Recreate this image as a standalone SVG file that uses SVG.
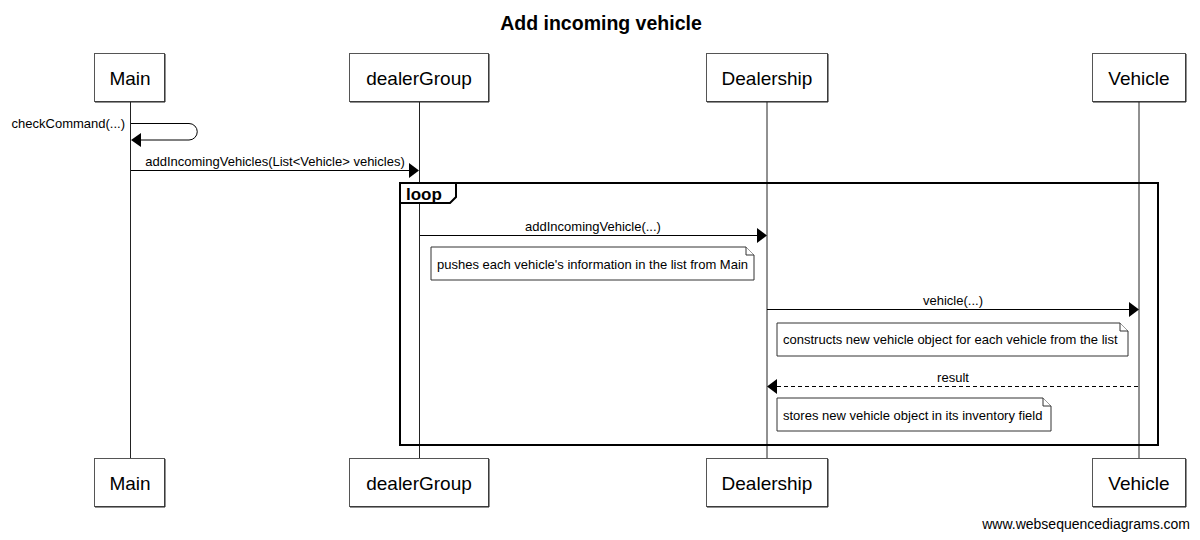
<svg xmlns="http://www.w3.org/2000/svg" width="1200" height="540" viewBox="0 0 1200 540">
<style>
text{font-family:"Liberation Sans",Arial,sans-serif;fill:#000}
.title{font-size:19.5px;font-weight:bold;text-anchor:middle}
.pbox{fill:#fff;stroke:#555;stroke-width:1}
.pshadow{fill:none;stroke:#222;stroke-width:1}
.pname{font-size:19px;text-anchor:middle}
.life{stroke:#222;stroke-width:1}
.msg{stroke:#000;stroke-width:1;fill:none}
.dash{stroke-dasharray:4,3}
.lbl{font-size:13px;text-anchor:middle}
.note{fill:#fff;stroke:#333;stroke-width:1}
.ntext{font-size:13px}
.frame{fill:none;stroke:#000;stroke-width:2}
.tab{fill:#fff;stroke:#000;stroke-width:2}
.head{fill:#000}
</style>
<text class="title" x="601" y="30">Add incoming vehicle</text>

<g id="lifelines">
<line class="life" x1="130.5" y1="102" x2="130.5" y2="458"/>
<line class="life" x1="419.5" y1="102" x2="419.5" y2="458"/>
<line class="life" x1="767" y1="102" x2="767" y2="458"/>
<line class="life" x1="1139" y1="102" x2="1139" y2="458"/>
</g>

<g id="Main">
<rect class="pbox" x="94.5" y="53.5" width="70" height="48"/>
<path class="pshadow" d="M165,54 V102 H95"/>
<text class="pname" x="130" y="85">Main</text>
</g>
<g id="dealerGroup">
<rect class="pbox" x="349.5" y="53.5" width="139" height="48"/>
<path class="pshadow" d="M489,54 V102 H350"/>
<text class="pname" x="419" y="85">dealerGroup</text>
</g>
<g id="Dealership">
<rect class="pbox" x="706.5" y="53.5" width="121" height="48"/>
<path class="pshadow" d="M828,54 V102 H707"/>
<text class="pname" x="767" y="85">Dealership</text>
</g>
<g id="Vehicle">
<rect class="pbox" x="1092.5" y="53.5" width="93" height="48"/>
<path class="pshadow" d="M1186,54 V102 H1093"/>
<text class="pname" x="1139" y="85">Vehicle</text>
</g>

<g id="Main-bottom">
<rect class="pbox" x="94.5" y="458.5" width="70" height="48"/>
<path class="pshadow" d="M165,459 V507 H95"/>
<text class="pname" x="130" y="490">Main</text>
</g>
<g id="dealerGroup-bottom">
<rect class="pbox" x="349.5" y="458.5" width="139" height="48"/>
<path class="pshadow" d="M489,459 V507 H350"/>
<text class="pname" x="419" y="490">dealerGroup</text>
</g>
<g id="Dealership-bottom">
<rect class="pbox" x="706.5" y="458.5" width="121" height="48"/>
<path class="pshadow" d="M828,459 V507 H707"/>
<text class="pname" x="767" y="490">Dealership</text>
</g>
<g id="Vehicle-bottom">
<rect class="pbox" x="1092.5" y="458.5" width="93" height="48"/>
<path class="pshadow" d="M1186,459 V507 H1093"/>
<text class="pname" x="1139" y="490">Vehicle</text>
</g>

<g id="loop">
<rect class="frame" x="400" y="183" width="758" height="262"/>
<path class="tab" d="M400,183 H456 V197 L450,203 H400 Z"/>
<text x="406" y="199.5" style="font-size:17px;font-weight:bold">loop</text>
</g>

<g id="connectors">
<path class="msg" d="M131,123.5 H189 A8.25,8.25 0 0 1 189,140 H140"/>
<polygon class="head" points="131,140 141,133 141,147"/>
<text x="125" y="128" style="font-size:13px;text-anchor:end">checkCommand(...)</text>

<line class="msg" x1="131" y1="170.5" x2="410" y2="170.5"/>
<polygon class="head" points="419,170.5 409,163 409,178"/>
<text class="lbl" x="275" y="166">addIncomingVehicles(List&lt;Vehicle&gt; vehicles)</text>

<line class="msg" x1="420" y1="235.5" x2="758" y2="235.5"/>
<polygon class="head" points="767,235.5 757,228 757,243"/>
<text class="lbl" x="593" y="231">addIncomingVehicle(...)</text>

<line class="msg" x1="767" y1="309.5" x2="1130" y2="309.5"/>
<polygon class="head" points="1139,309.5 1129,302 1129,317"/>
<text class="lbl" x="953" y="305">vehicle(...)</text>

<line class="msg dash" x1="1138" y1="386.5" x2="776" y2="386.5"/>
<polygon class="head" points="767,386.5 777,379 777,394"/>
<text class="lbl" x="953" y="382">result</text>
</g>

<g id="note1">
<path class="note" d="M431,247 H746 L754,255 V280 H431 Z"/>
<path class="note" d="M746,247 V255 H754"/>
<text class="ntext" x="437" y="269">pushes each vehicle's information in the list from Main</text>
</g>
<g id="note2">
<path class="note" d="M777,323 H1120 L1128,331 V356 H777 Z"/>
<path class="note" d="M1120,323 V331 H1128"/>
<text class="ntext" x="783" y="344">constructs new vehicle object for each vehicle from the list</text>
</g>
<g id="note3">
<path class="note" d="M777,398 H1043 L1051,406 V431 H777 Z"/>
<path class="note" d="M1043,398 V406 H1051"/>
<text class="ntext" x="783" y="420">stores new vehicle object in its inventory field</text>
</g>

<text x="1190" y="529" style="font-size:14px;text-anchor:end">www.websequencediagrams.com</text>
</svg>
